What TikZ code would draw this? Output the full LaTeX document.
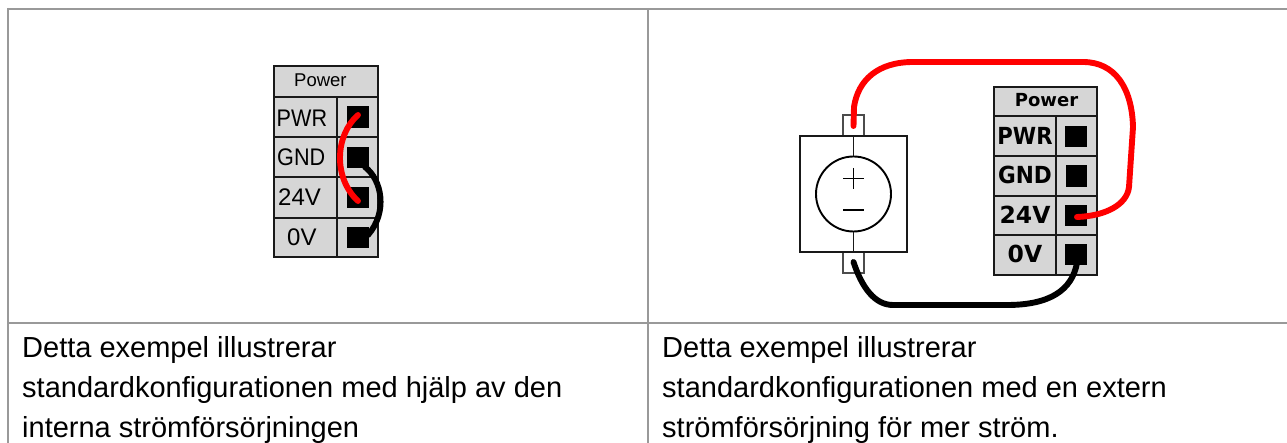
\documentclass[tikz,border=0pt]{standalone}
\usepackage{fontspec}
\usepackage{graphicx}
\setmainfont{Liberation Sans}
\newfontfamily\djb{DejaVu Sans}
\begin{document}
\begin{tikzpicture}[x=1pt,y=-1pt,
  grid/.style={draw=gridgray,line width=2pt},
  cell/.style={draw=black!90,line width=1.5pt,fill=cellgray},
  sq/.style={fill=black,inner sep=0pt,outer sep=0pt,minimum size=21.5pt},
  lt/.style={inner sep=0pt,font=\fontsize{24}{24}\selectfont,anchor=base west},
  rt/.style={inner sep=0pt,font=\fontsize{23.5}{23.5}\selectfont\djb\bfseries,anchor=base},
  captxt/.style={inner sep=0pt,anchor=base west,font=\fontsize{29}{29}\selectfont},
  wire/.style={line width=5.9pt,line cap=round,line join=round},
  part/.style={draw=black!90,line width=1.9pt},
  tabbox/.style={draw=black!70,line width=1.8pt,fill=white,inner sep=0pt,minimum width=21pt,minimum height=21pt}]
\definecolor{gridgray}{HTML}{999999}
\definecolor{cellgray}{HTML}{D6D6D6}
\useasboundingbox (0,0) rectangle (1287,443);
\fill[white] (0,0) rectangle (1287,443);
% table
\draw[grid] (7,9) -- (1287,9);
\draw[grid] (8,323) -- (1287,323);
\draw[grid] (8,8) -- (8,443);
\draw[grid] (648,9) -- (648,443);
% left terminal
\draw[cell] (274,66) rectangle (378,97);
\foreach \a/\b in {97/137,137/177,177/218,218/257}{
  \draw[cell] (274,\a) rectangle (337,\b);
  \draw[cell] (337,\a) rectangle (378,\b);
}
\node[lt,font=\fontsize{18.5}{18.5}\selectfont] (lp) at (294,87) {Power};
\node[lt] (l1) at (276.5,127) {\scalebox{.9}[1]{PWR}};
\node[lt] (l2) at (277,166) {\scalebox{.9}[1]{GND}};
\node[lt] (l3) at (278,206) {24V};
\node[lt] (l4) at (287,246) {0V};
\node[sq] (ls1) at (358,117) {};
\node[sq] (ls2) at (358,157.5) {};
\node[sq] (ls3) at (358,197.5) {};
\node[sq] (ls4) at (358,237.5) {};
\coordinate (lr1) at (358,115);
\coordinate (lr2) at (358,201);
\coordinate (lb1) at (365,167);
\coordinate (lb2) at (368,235);
\draw[wire,black] (lb1) .. controls (382,180) and (388,212) .. (lb2);
\draw[wire,red] (lr1) .. controls (335,135) and (333,178) .. (lr2);
% source
\node[tabbox] (tp) at (853.5,125.5) {};
\node[tabbox] (tm) at (853.5,262.5) {};
\draw[part] (800,136) rectangle (907,252);
\node[circle,draw=black,line width=1.9pt,minimum size=75pt,inner sep=0pt] (src) at (853.5,194) {};
\draw[part] (853.5,136) -- (src.north);
\draw[part] (src.south) -- (853.5,252);
\draw[black,line width=1.7pt] (843,178.5) -- (864,178.5) (853.5,168) -- (853.5,189);
\draw[black,line width=1.7pt] (843,210) -- (864,210);
% right terminal
\draw[cell] (994,87) rectangle (1097,116);
\foreach \a/\b in {116/156,156/196,196/235,235/275}{
  \draw[cell] (994,\a) rectangle (1056,\b);
  \draw[cell] (1056,\a) rectangle (1097,\b);
}
\node[rt,font=\fontsize{18}{18}\selectfont\djb\bfseries] (rp) at (1046.5,107) {Power};
\node[rt] (r1) at (1025,145) {\scalebox{.9}[1]{PWR}};
\node[rt] (r2) at (1025,184) {\scalebox{.92}[1]{GND}};
\node[rt] (r3) at (1025,224) {24V};
\node[rt] (r4) at (1025,263) {0V};
\node[sq] (rs1) at (1076,136.5) {};
\node[sq] (rs2) at (1076.5,176) {};
\node[sq] (rs3) at (1076,215.5) {};
\node[sq] (rs4) at (1076,254.5) {};
\coordinate (rr) at (1077,217);
\coordinate (rb) at (1077,263);
\coordinate (tpc) at (853.5,126);
\coordinate (tmc) at (853.5,262);
\draw[wire,red] (tpc) -- (854,107) .. controls (858,80) and (878,62) .. (913,62) -- (1083,62)
  .. controls (1115,62) and (1132,88) .. (1133,127) -- (1129,187) .. controls (1127,205) and (1105,216) .. (rr);
\draw[wire,black] (tmc) .. controls (862,288) and (875,305) .. (893,305) -- (1007,305)
  .. controls (1050,305) and (1072,290) .. (rb);
% captions
\node[captxt] (c1a) at (22,357) {Detta exempel illustrerar};
\node[captxt] (c1b) at (22,397) {standardkonfigurationen med hjälp av den};
\node[captxt] (c1c) at (22,437) {interna strömförsörjningen};
\node[captxt] (c2a) at (662,357) {Detta exempel illustrerar};
\node[captxt] (c2b) at (662,397) {standardkonfigurationen med en extern};
\node[captxt] (c2c) at (662,437) {strömförsörjning för mer ström.};
\end{tikzpicture}
\end{document}
